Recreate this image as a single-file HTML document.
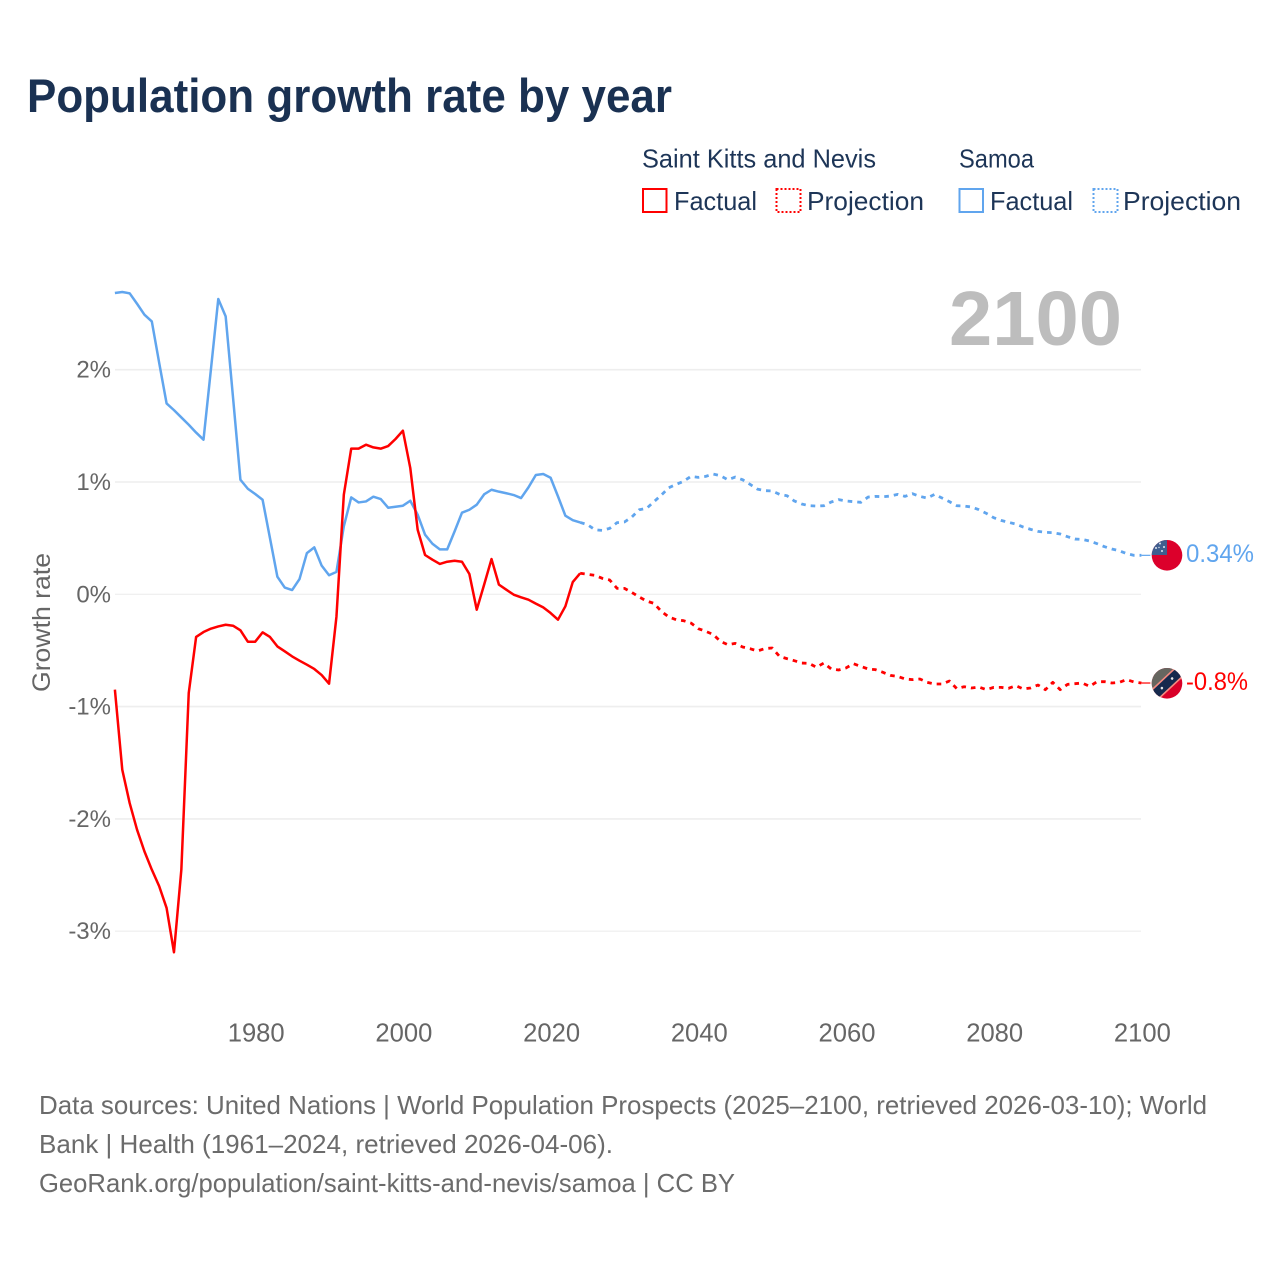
<!DOCTYPE html>
<html lang="en">
<head>
<meta charset="utf-8">
<title>Population growth rate by year</title>
<style>
html,body{margin:0;padding:0;background:#fff;}
svg{display:block;}
text{font-family:"Liberation Sans",sans-serif;}
</style>
</head>
<body>
<svg id="chart" xmlns="http://www.w3.org/2000/svg" width="1280" height="1280" viewBox="0 0 1280 1280">
  <defs>
    <clipPath id="clip-samoa"><circle cx="1167" cy="555.3" r="15.3"/></clipPath>
    <clipPath id="clip-kitts"><circle cx="1167" cy="683.3" r="15.3"/></clipPath>
  </defs>
  <rect width="1280" height="1280" fill="#fff"/>
  <text x="27" y="112" font-size="47" font-weight="700" fill="#1a3152" textLength="645" lengthAdjust="spacingAndGlyphs">Population growth rate by year</text>

  <g>
    <text x="642" y="167.5" font-size="26" fill="#1d3557" textLength="234" lengthAdjust="spacingAndGlyphs">Saint Kitts and Nevis</text>
    <text x="959" y="167.5" font-size="26" fill="#1d3557" textLength="75" lengthAdjust="spacingAndGlyphs">Samoa</text>
    <rect x="643" y="189" width="23.5" height="23" fill="none" stroke="#ff0000" stroke-width="2"/>
    <text x="674" y="210" font-size="26" fill="#1d3557" textLength="83" lengthAdjust="spacingAndGlyphs">Factual</text>
    <rect x="776.5" y="189" width="24" height="23" fill="none" stroke="#ff0000" stroke-width="2" stroke-dasharray="2 2"/>
    <text x="807" y="210" font-size="26" fill="#1d3557" textLength="117" lengthAdjust="spacingAndGlyphs">Projection</text>
    <rect x="959.5" y="189" width="23.5" height="23" fill="none" stroke="#60a5ee" stroke-width="2"/>
    <text x="990" y="210" font-size="26" fill="#1d3557" textLength="83" lengthAdjust="spacingAndGlyphs">Factual</text>
    <rect x="1093.5" y="189" width="24" height="23" fill="none" stroke="#60a5ee" stroke-width="2" stroke-dasharray="2 2"/>
    <text x="1123" y="210" font-size="26" fill="#1d3557" textLength="118" lengthAdjust="spacingAndGlyphs">Projection</text>
  </g>

  <g id="grid"></g>
  <g id="y-ticks"></g>
  <g id="x-ticks"></g>
  <text transform="translate(50,692) rotate(-90)" font-size="25" fill="#666" textLength="139" lengthAdjust="spacingAndGlyphs">Growth rate</text>
  <text x="949" y="345" font-size="77" font-weight="700" fill="#bdbdbd" textLength="173" lengthAdjust="spacingAndGlyphs">2100</text>

  <g id="series"></g>

  <g clip-path="url(#clip-samoa)">
    <rect x="1150" y="538" width="34" height="34" fill="#dc002b"/>
    <rect x="1150" y="538" width="17" height="17" fill="#3f5e8f"/>
    <circle cx="1160" cy="543.5" r="1" fill="#dfe6f0"/>
    <circle cx="1164" cy="547" r="1" fill="#dfe6f0"/>
    <circle cx="1156" cy="548" r="1" fill="#dfe6f0"/>
    <circle cx="1162" cy="551" r="1" fill="#dfe6f0"/>
    <circle cx="1159" cy="547.5" r=".7" fill="#dfe6f0"/>
  </g>
  <g clip-path="url(#clip-kitts)">
    <rect x="1150" y="666" width="34" height="36" fill="#d90028"/>
    <polygon points="1150,666 1184,666 1150,698" fill="#666660"/>
    <g transform="rotate(-43 1167 683.3)">
      <rect x="1145" y="677" width="44" height="12.6" fill="#f58a80"/>
      <rect x="1145" y="678.6" width="44" height="9.4" fill="#16294d"/>
      <circle cx="1160" cy="683.3" r="1.3" fill="#e6e6e6"/>
      <circle cx="1174" cy="683.3" r="1.3" fill="#e6e6e6"/>
    </g>
  </g>

  <text x="1186" y="562" font-size="25" fill="#60a5ee" textLength="68" lengthAdjust="spacingAndGlyphs">0.34%</text>
  <text x="1186" y="690" font-size="25" fill="#ff0000" textLength="62" lengthAdjust="spacingAndGlyphs">-0.8%</text>

  <g font-size="26" fill="#6b6b6b">
    <text x="39" y="1114" textLength="1168" lengthAdjust="spacingAndGlyphs">Data sources: United Nations | World Population Prospects (2025–2100, retrieved 2026-03-10); World</text>
    <text x="39" y="1153" textLength="574" lengthAdjust="spacingAndGlyphs">Bank | Health (1961–2024, retrieved 2026-04-06).</text>
    <text x="39" y="1192" textLength="696" lengthAdjust="spacingAndGlyphs">GeoRank.org/population/saint-kitts-and-nevis/samoa | CC BY</text>
  </g>
</svg>
<script>
const xTickYears = [1980, 2000, 2020, 2040, 2060, 2080, 2100];
const yTickValues = [2, 1, 0, -1, -2, -3];
const factualStartYear = 1961;
const projectionStartYear = 2024;

const samoaFactual = [
  2.683,2.692,2.68,2.587,2.49,2.43,2.06,1.70,1.64,1.575,
  1.51,1.44,1.377,2.0,2.63,2.475,1.75,1.02,.94,.893,
  .842,.50,.157,.06,.038,.136,.367,.418,.255,.17,
  .20,.605,.863,.818,.827,.869,.848,.771,.78,.789,
  .833,.709,.531,.45,.40,.40,.56,.727,.753,.798,
  .89,.931,.914,.90,.884,.857,.952,1.062,1.071,1.038,
  .872,.70,.66,.64
];
const samoaProjection = [
  .64,
  .62,.575,.569,.587,.638,.644,
  .688,.753,.765,.825,.884,.949,.979,1.006,1.05,1.041,
  1.05,1.071,1.056,1.02,1.044,1.02,.979,.937,.923,.92,
  .89,.878,.831,.804,.789,.786,.789,.822,.843,.831,
  .825,.819,.866,.872,.869,.875,.89,.872,.896,.872,
  .857,.89,.857,.825,.789,.786,.777,.753,.721,.682,
  .658,.641,.626,.599,.578,.56,.552,.549,.537,.513,
  .492,.489,.474,.451,.424,.403,.388,.362,.347,.347
];
const kittsFactual = [
  -.849,-1.562,-1.859,-2.096,-2.289,-2.452,-2.60,-2.793,-3.188,-2.452,
  -.879,-.38,-.336,-.306,-.286,-.271,-.28,-.321,-.422,-.422,
  -.339,-.38,-.464,-.508,-.553,-.591,-.627,-.665,-.719,-.796,
  -.2,.887,1.297,1.297,1.332,1.308,1.297,1.32,1.383,1.457,
  1.124,.575,.35,.308,.27,.29,.299,.29,.181,-.137,
  .086,.314,.086,.041,-.003,-.027,-.048,-.083,-.116,-.167,
  -.226,-.107,.109,.187
];
const kittsProjection = [
  .187,
  .178,.169,.142,.127,.053,.053,
  .017,-.024,-.06,-.081,-.152,-.202,-.226,-.235,-.256,-.306,
  -.33,-.357,-.419,-.449,-.437,-.469,-.484,-.505,-.484,-.478,
  -.553,-.573,-.591,-.612,-.615,-.65,-.612,-.665,-.674,-.656,
  -.618,-.642,-.665,-.671,-.695,-.722,-.731,-.754,-.76,-.754,
  -.784,-.799,-.799,-.772,-.84,-.823,-.834,-.826,-.849,-.829,
  -.829,-.837,-.814,-.843,-.834,-.808,-.849,-.784,-.849,-.802,
  -.796,-.79,-.82,-.778,-.778,-.79,-.784,-.76,-.781,-.79
];

const SVG_NS = 'http://www.w3.org/2000/svg';
function xScale(year) { return 1141.4 - (2100 - year) * 7.385; }
function yScale(value) { return 594.3 - value * 112.3; }

function linePath(values, startYear) {
  return values.map(function (v, i) {
    return (i ? 'L' : 'M') + xScale(startYear + i).toFixed(2) + ' ' + yScale(v).toFixed(2);
  }).join(' ');
}

const gridGroup = document.getElementById('grid');
const yTickGroup = document.getElementById('y-ticks');
const xTickGroup = document.getElementById('x-ticks');
const seriesGroup = document.getElementById('series');

yTickValues.forEach(function (v) {
  const line = document.createElementNS(SVG_NS, 'line');
  
  
  line.setAttribute('x1', 115);
  line.setAttribute('x2', 1141);
  line.setAttribute('y1', yScale(v));
  line.setAttribute('y2', yScale(v));
  line.setAttribute('stroke', '#eeeeee');
  line.setAttribute('stroke-width', (v === 0 || v === -3) ? 1.2 : 1.6);
  gridGroup.appendChild(line);

  const label = document.createElementNS(SVG_NS, 'text');
  
  
  label.setAttribute('x', 111);
  label.setAttribute('y', yScale(v) + 8);
  label.setAttribute('text-anchor', 'end');
  label.setAttribute('font-size', 24);
  label.setAttribute('fill', '#666');
  label.textContent = v + '%';
  yTickGroup.appendChild(label);
});

xTickYears.forEach(function (year) {
  const label = document.createElementNS(SVG_NS, 'text');
  
  
  label.setAttribute('x', xScale(year) + 1);
  label.setAttribute('y', 1041.5);
  label.setAttribute('text-anchor', 'middle');
  label.setAttribute('font-size', 25.6);
  label.setAttribute('fill', '#666');
  label.textContent = year;
  xTickGroup.appendChild(label);
});

function addLine(values, startYear, color, dashed) {
  const path = document.createElementNS(SVG_NS, 'path');
  
  
  path.setAttribute('d', linePath(values, startYear));
  path.setAttribute('fill', 'none');
  path.setAttribute('stroke', color);
  path.setAttribute('stroke-width', dashed ? 2.8 : 2.5);
  path.setAttribute('stroke-linejoin', 'round');
  if (dashed) path.setAttribute('stroke-dasharray', '4.6 5');
  seriesGroup.appendChild(path);
}

function addConnector(lastValue, color) {
  const line = document.createElementNS(SVG_NS, 'line');
  
  
  line.setAttribute('x1', xScale(2100));
  line.setAttribute('x2', xScale(2100) + 9);
  line.setAttribute('y1', yScale(lastValue));
  line.setAttribute('y2', yScale(lastValue));
  line.setAttribute('stroke', color);
  line.setAttribute('stroke-width', 1.2);
  seriesGroup.appendChild(line);
}

addLine(samoaFactual, factualStartYear, '#60a5ee', false);
addLine(samoaProjection, projectionStartYear, '#60a5ee', true);
addLine(kittsFactual, factualStartYear, '#ff0000', false);
addLine(kittsProjection, projectionStartYear, '#ff0000', true);
addConnector(samoaProjection[samoaProjection.length - 1], '#60a5ee');
addConnector(kittsProjection[kittsProjection.length - 1], '#ff0000');
</script>
</body>
</html>
